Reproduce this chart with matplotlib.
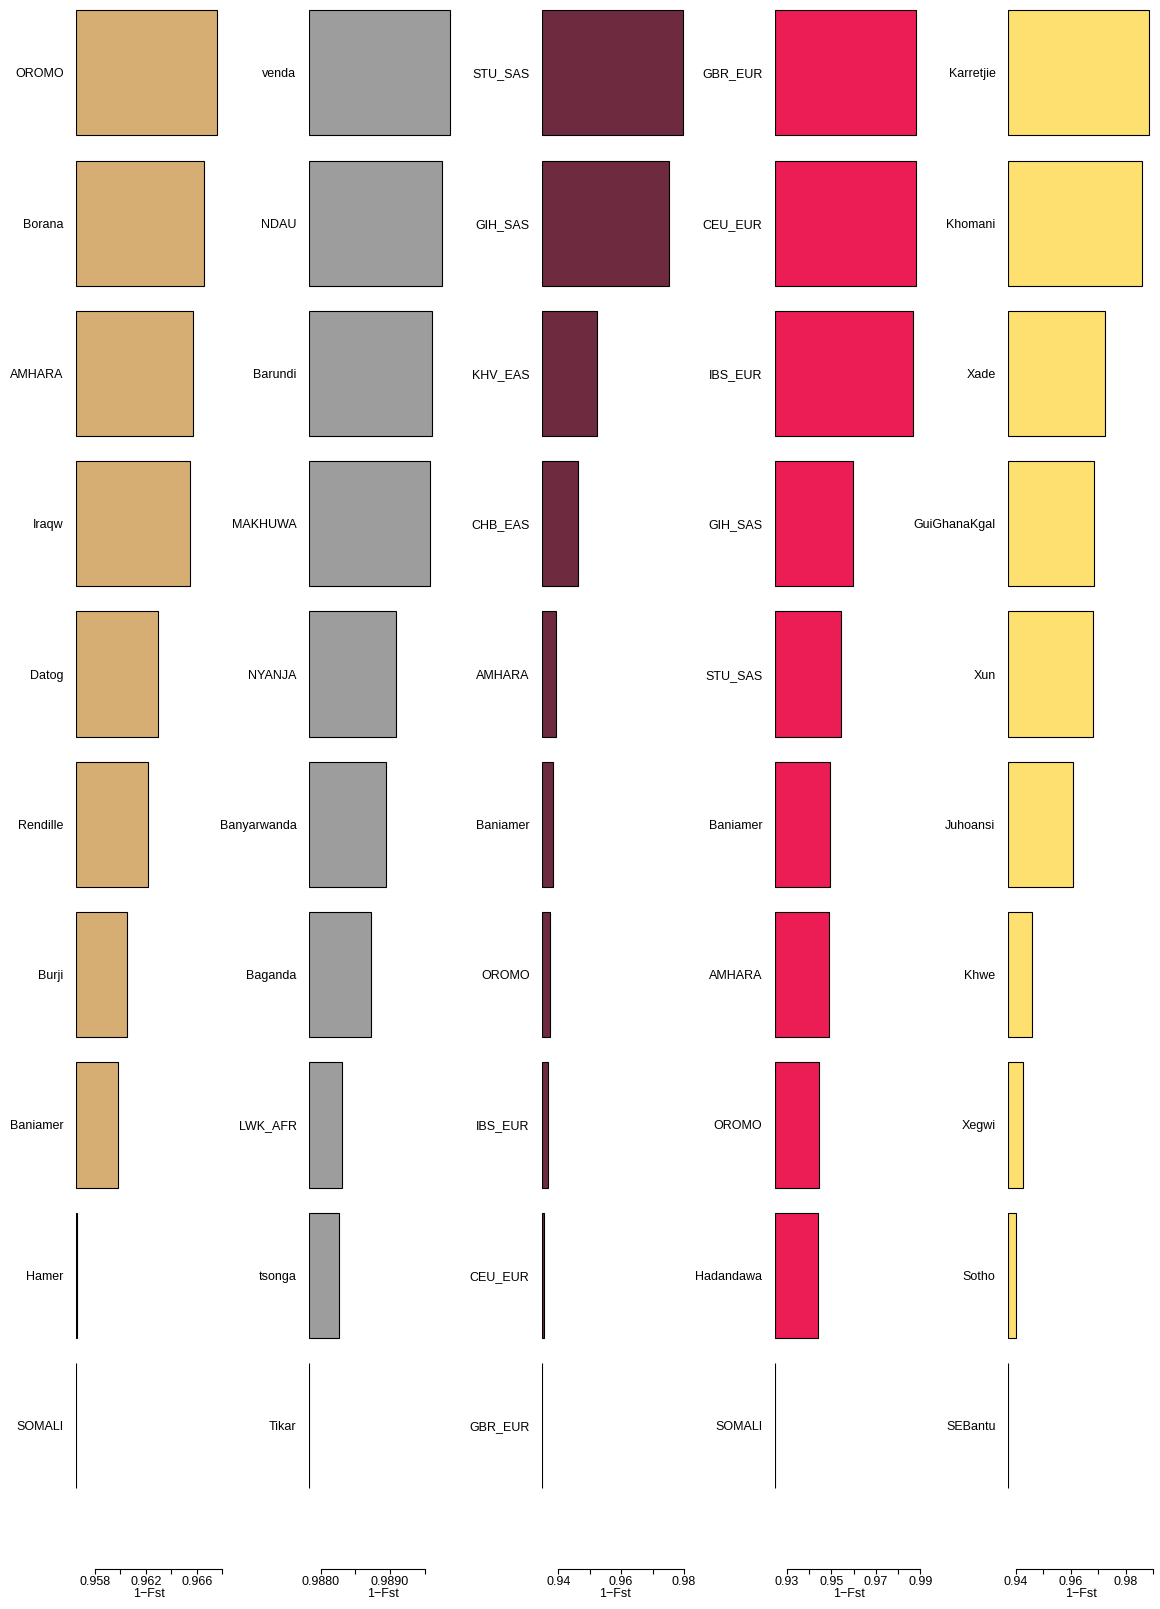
import matplotlib
matplotlib.use("Agg")
import matplotlib.pyplot as plt

plt.rcParams['font.family'] = ['Liberation Sans', 'DejaVu Sans']
plt.rcParams['font.size'] = 9

# populations, top to bottom, and their 1-Fst values
pops1 = ['OROMO', 'Borana', 'AMHARA', 'Iraqw', 'Datog', 'Rendille', 'Burji',
         'Baniamer', 'Hamer', 'SOMALI']
vals1 = [0.96762, 0.96657, 0.96569, 0.96544, 0.96295, 0.96214, 0.96053,
         0.95980, 0.95658, 0.95651]

pops2 = ['venda', 'NDAU', 'Barundi', 'MAKHUWA', 'NYANJA', 'Banyarwanda',
         'Baganda', 'LWK_AFR', 'tsonga', 'Tikar']
vals2 = [0.98987, 0.98975, 0.98960, 0.98957, 0.98908, 0.98894, 0.98873,
         0.98830, 0.98827, 0.98783]

pops3 = ['STU_SAS', 'GIH_SAS', 'KHV_EAS', 'CHB_EAS', 'AMHARA', 'Baniamer',
         'OROMO', 'IBS_EUR', 'CEU_EUR', 'GBR_EUR']
vals3 = [0.97978, 0.97524, 0.95241, 0.94622, 0.93940, 0.93841, 0.93743,
         0.93679, 0.93540, 0.93482]

pops4 = ['GBR_EUR', 'CEU_EUR', 'IBS_EUR', 'GIH_SAS', 'STU_SAS', 'Baniamer',
         'AMHARA', 'OROMO', 'Hadandawa', 'SOMALI']
vals4 = [0.98821, 0.98815, 0.98683, 0.95969, 0.95418, 0.94957, 0.94912,
         0.94451, 0.94406, 0.92476]

pops5 = ['Karretjie', 'Khomani', 'Xade', 'GuiGhanaKgal', 'Xun', 'Juhoansi',
         'Khwe', 'Xegwi', 'Sotho', 'SEBantu']
vals5 = [0.98869, 0.98607, 0.97260, 0.96848, 0.96812, 0.96065, 0.94568,
         0.94270, 0.94007, 0.93709]

ticks1 = [0.958, 0.960, 0.962, 0.964, 0.966, 0.968]
labs1 = ['0.958', '', '0.962', '', '0.966', '']
ticks2 = [0.9880, 0.9885, 0.9890, 0.9895]
labs2 = ['0.9880', '', '0.9890', '']
ticks3 = [0.94, 0.95, 0.96, 0.97, 0.98]
labs3 = ['0.94', '', '0.96', '', '0.98']
ticks4 = [0.93, 0.94, 0.95, 0.96, 0.97, 0.98, 0.99]
labs4 = ['0.93', '', '0.95', '', '0.97', '', '0.99']
ticks5 = [0.94, 0.95, 0.96, 0.97, 0.98, 0.99]
labs5 = ['0.94', '', '0.96', '', '0.98', '']

colors = ['#D6AE74', '#9D9D9E', '#6E2A3E', '#EC1C54', '#FDE06F']

panels = [(pops1, vals1, ticks1, labs1), (pops2, vals2, ticks2, labs2),
          (pops3, vals3, ticks3, labs3), (pops4, vals4, ticks4, labs4),
          (pops5, vals5, ticks5, labs5)]

W, H = 1160, 1609
fig = plt.figure(figsize=(W / 100, H / 100), dpi=100)
lefts = [76, 309, 542, 775, 1008]
ax_w = 147
ax_bottom = 1568.5

for k, (pops, vals, ticks, labs) in enumerate(panels):
    ax = fig.add_axes([lefts[k] / W, (H - ax_bottom) / H, ax_w / W, ax_bottom / H])
    vmin, vmax = min(vals), max(vals)
    pos = list(range(len(vals)))
    ax.barh(pos, [v - vmin for v in vals], left=vmin, height=0.833,
            color=colors[k], edgecolor='black', linewidth=0.8)
    ax.set_xlim(vmin, vmax + 0.04 * (vmax - vmin))
    ax.set_ylim(9.951, -0.485)
    ax.set_yticks(pos)
    ax.set_yticklabels(pops)
    ax.tick_params(axis='y', length=0, pad=9)
    ax.set_xticks(ticks)
    ax.set_xticklabels(labs)
    ax.tick_params(axis='x', length=3.6, width=0.8, pad=1.5, direction='out')
    for s in ['left', 'right', 'top']:
        ax.spines[s].set_visible(False)
    ax.spines['bottom'].set_bounds(ticks[0], ticks[-1])
    ax.spines['bottom'].set_linewidth(0.8)
    ax.set_xlabel('1\u2212Fst', labelpad=0)

fig.savefig('out.png', dpi=100)
